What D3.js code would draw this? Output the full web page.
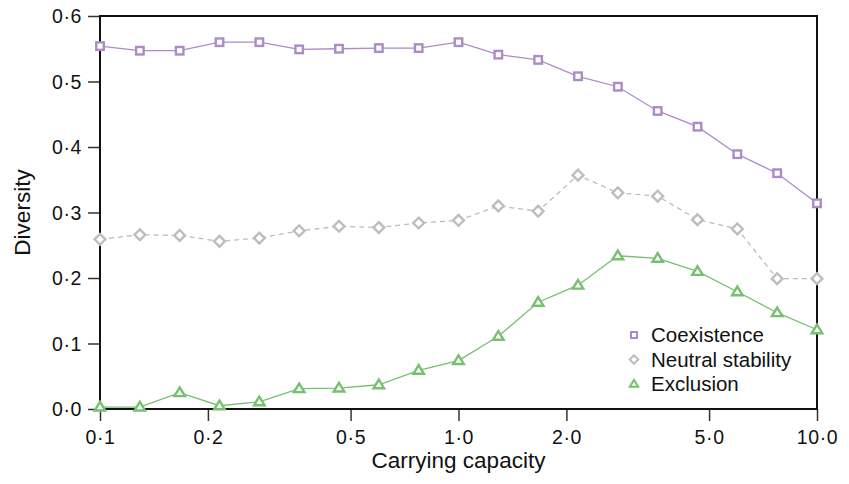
<!DOCTYPE html>
<html lang="en">
<head>
<meta charset="UTF-8">
<title>Diversity vs carrying capacity</title>
<script src="https://cdnjs.cloudflare.com/ajax/libs/d3/7.8.5/d3.min.js"></script>
<style>
    body { margin: 0; background: #fff; font-family: "Liberation Sans", Arial, sans-serif; }
    .axis text { font-size: 19.5px; fill: #111; letter-spacing: 0.6px; }
</style>
</head>
<body>
<svg id="chart" width="849" height="484"></svg>
<script>
    // carrying capacity: 19 log-spaced points from 0.1 to 10
    const capacity = d3.range(19).map(k => Math.pow(10, -1 + k / 9));

    const coexistence = [0.554, 0.547, 0.547, 0.560, 0.560, 0.549, 0.550, 0.551, 0.551, 0.560,
                         0.541, 0.533, 0.508, 0.492, 0.455, 0.431, 0.389, 0.360, 0.314];
    const neutral = [0.259, 0.266, 0.265, 0.256, 0.261, 0.272, 0.279, 0.277, 0.284, 0.288,
                     0.310, 0.302, 0.357, 0.330, 0.325, 0.289, 0.275, 0.199, 0.199];
    const exclusion = [0.003, 0.003, 0.025, 0.005, 0.011, 0.031, 0.032, 0.037, 0.059, 0.074,
                       0.111, 0.163, 0.189, 0.234, 0.230, 0.210, 0.179, 0.147, 0.121];

    const xTicks = [0.1, 0.2, 0.5, 1, 2, 5, 10];
    const yTicks = [0, 0.1, 0.2, 0.3, 0.4, 0.5, 0.6];

    const fmt = d => d3.format(".1f")(d).replace(".", "\u00b7");

    const margin = { top: 16, right: 32, bottom: 75, left: 100 };
    const width = 849 - margin.left - margin.right;
    const height = 484 - margin.top - margin.bottom;

    const svg = d3.select("#chart");
    const g = svg.append("g").attr("transform", `translate(${margin.left},${margin.top})`);

    const x = d3.scaleLog().domain([0.1, 10]).range([0, width]);
    const y = d3.scaleLinear().domain([0, 0.6]).range([height, 0]);

    // axes
    g.append("g").attr("class", "axis")
        .attr("transform", `translate(0,${height})`)
        .call(d3.axisBottom(x).tickValues(xTicks).tickFormat(fmt).tickSize(12).tickPadding(9))
        .call(a => a.select(".domain").remove())
        .call(a => a.selectAll("line").attr("stroke", "#333").attr("stroke-width", 1.5));

    g.append("g").attr("class", "axis")
        .call(d3.axisLeft(y).tickValues(yTicks).tickFormat(fmt).tickSize(12).tickPadding(6))
        .call(a => a.select(".domain").remove())
        .call(a => a.selectAll("line").attr("stroke", "#333").attr("stroke-width", 1.5))
        .call(a => a.selectAll("text").attr("dy", "0.35em"));

    // frame
    g.append("rect")
        .attr("width", width).attr("height", height)
        .attr("fill", "none").attr("stroke", "#111").attr("stroke-width", 2);

    // axis titles
    svg.append("text")
        .attr("x", margin.left + width / 2).attr("y", 468)
        .attr("text-anchor", "middle").attr("font-size", 22.5).attr("fill", "#111")
        .text("Carrying capacity");
    svg.append("text")
        .attr("transform", `translate(30,${margin.top + height / 2}) rotate(-90)`)
        .attr("text-anchor", "middle").attr("font-size", 22.5).attr("fill", "#111")
        .text("Diversity");

    const series = [
        { name: "Coexistence", values: coexistence, color: "#ac8bc8", dash: null, shape: "square" },
        { name: "Neutral stability", values: neutral, color: "#bdbdbd", dash: "5,4", shape: "diamond" },
        { name: "Exclusion", values: exclusion, color: "#76c070", dash: null, shape: "triangle" }
    ];

    const line = d3.line().x(d => x(d[0])).y(d => y(d[1]));

    function marker(sel, shape, color, size, sw) {
        if (shape === "square") {
            sel.append("rect")
                .attr("x", -size / 2).attr("y", -size / 2)
                .attr("width", size).attr("height", size)
                .attr("fill", "#fff").attr("stroke", color).attr("stroke-width", sw);
        } else if (shape === "diamond") {
            const r = size * 0.72;
            sel.append("path")
                .attr("d", `M0,${-r}L${r},0L0,${r}L${-r},0Z`)
                .attr("fill", "#fff").attr("stroke", color).attr("stroke-width", sw);
        } else {
            const w = size * 1.4, h = size * 1.15;
            sel.append("path")
                .attr("d", `M0,${-h * 0.6}L${w / 2},${h * 0.4}L${-w / 2},${h * 0.4}Z`)
                .attr("fill", "#fff").attr("stroke", color).attr("stroke-width", sw);
        }
    }

    const plot = g.append("g");
    series.forEach(s => {
        const pts = capacity.map((c, i) => [c, s.values[i]]);
        plot.append("path")
            .datum(pts)
            .attr("d", line)
            .attr("fill", "none")
            .attr("stroke", s.color)
            .attr("stroke-width", 1.3)
            .attr("stroke-dasharray", s.dash);
        plot.selectAll(null)
            .data(pts)
            .enter()
            .append("g")
            .attr("transform", d => `translate(${x(d[0])},${y(d[1])})`)
            .each(function () { marker(d3.select(this), s.shape, s.color, 7.5, 2.4); });
    });

    // legend
    const legend = svg.append("g").attr("transform", "translate(634,335)");
    series.forEach((s, i) => {
        const row = legend.append("g").attr("transform", `translate(0,${i * 24.5})`);
        marker(row, s.shape, s.color, 6, 2);
        row.append("text")
            .attr("x", 17).attr("dy", "0.36em")
            .attr("font-size", 20.5).attr("fill", "#111")
            .text(s.name);
    });
</script>
</body>
</html>
